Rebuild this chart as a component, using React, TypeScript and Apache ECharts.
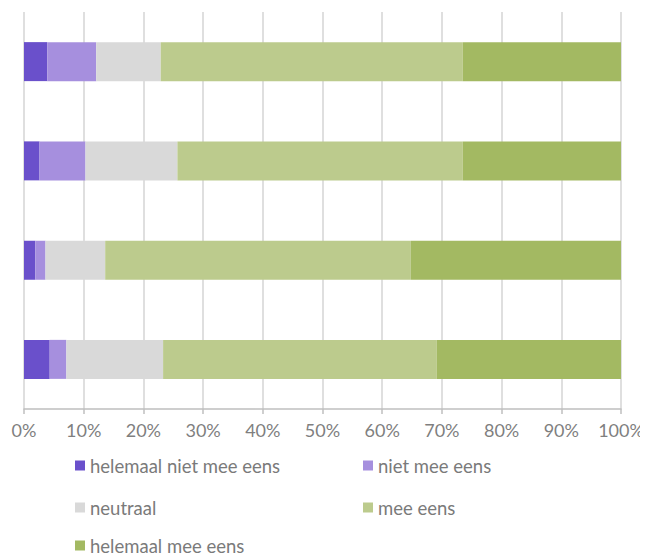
import React, { useEffect, useRef } from "react";
import * as echarts from "echarts";

const categories = ["Stelling 1", "Stelling 2", "Stelling 3", "Stelling 4"];
const seriesNames = [
  "helemaal niet mee eens",
  "niet mee eens",
  "neutraal",
  "mee eens",
  "helemaal mee eens",
];
const helemaalNietMeeEens = [3.9, 2.6, 1.9, 4.3];
const nietMeeEens = [8.2, 7.7, 1.7, 2.8];
const neutraal = [10.8, 15.4, 10.0, 16.2];
const meeEens = [50.6, 47.8, 51.2, 45.8];
const helemaalMeeEens = [26.5, 26.5, 35.2, 30.9];
const colors = ["#6a50cb", "#a68fde", "#d9d9d9", "#bccb8d", "#a3b962"];

const legendPos = [
  { left: 75, top: 456 },
  { left: 363, top: 456 },
  { left: 75, top: 498 },
  { left: 363, top: 498 },
  { left: 75, top: 536 },
];

export default function App() {
  const ref = useRef<HTMLDivElement>(null);
  useEffect(() => {
    if (!ref.current) return;
    const chart = echarts.init(ref.current, undefined, { renderer: "svg" });
    const values = [helemaalNietMeeEens, nietMeeEens, neutraal, meeEens, helemaalMeeEens];
    chart.setOption({
      animation: false,
      color: colors,
      textStyle: { fontFamily: "Lato" },
      grid: { left: 24, right: 27, top: 12, bottom: 148 },
      xAxis: {
        type: "value",
        min: 0,
        max: 100,
        interval: 10,
        axisLine: { show: true, lineStyle: { color: "#bfbfbf", width: 1.5 } },
        axisTick: { show: true, length: 5, lineStyle: { color: "#bfbfbf", width: 1.5 } },
        axisLabel: {
          formatter: "{value}%",
          color: "#7f7f7f",
          fontSize: 18,
          fontFamily: "Lato",
          margin: 12,
        },
        splitLine: { show: true, lineStyle: { color: "#d4d4d4", width: 1.5 } },
      },
      yAxis: {
        type: "category",
        data: categories,
        inverse: true,
        axisLine: { show: false },
        axisTick: { show: false },
        axisLabel: { show: false },
      },
      legend: seriesNames.map((name, i) => ({
        data: [name],
        left: legendPos[i].left,
        top: legendPos[i].top,
        itemWidth: 10,
        itemHeight: 10,
        itemGap: 0,
        padding: 0,
        icon: "rect",
        textStyle: {
          color: "#7a7a7a",
          fontSize: 18.5,
          lineHeight: 14,
          fontFamily: "Lato",
          padding: [0, 0, 0, 0],
        },
        selectedMode: false,
      })),
      series: seriesNames.map((name, i) => ({
        name,
        type: "bar",
        stack: "total",
        barWidth: 39,
        data: values[i],
        itemStyle: { color: colors[i] },
      })),
    });
    return () => chart.dispose();
  }, []);
  return <div ref={ref} style={{ width: 648, height: 557, marginLeft: -8, marginTop: -8 }} />;
}
